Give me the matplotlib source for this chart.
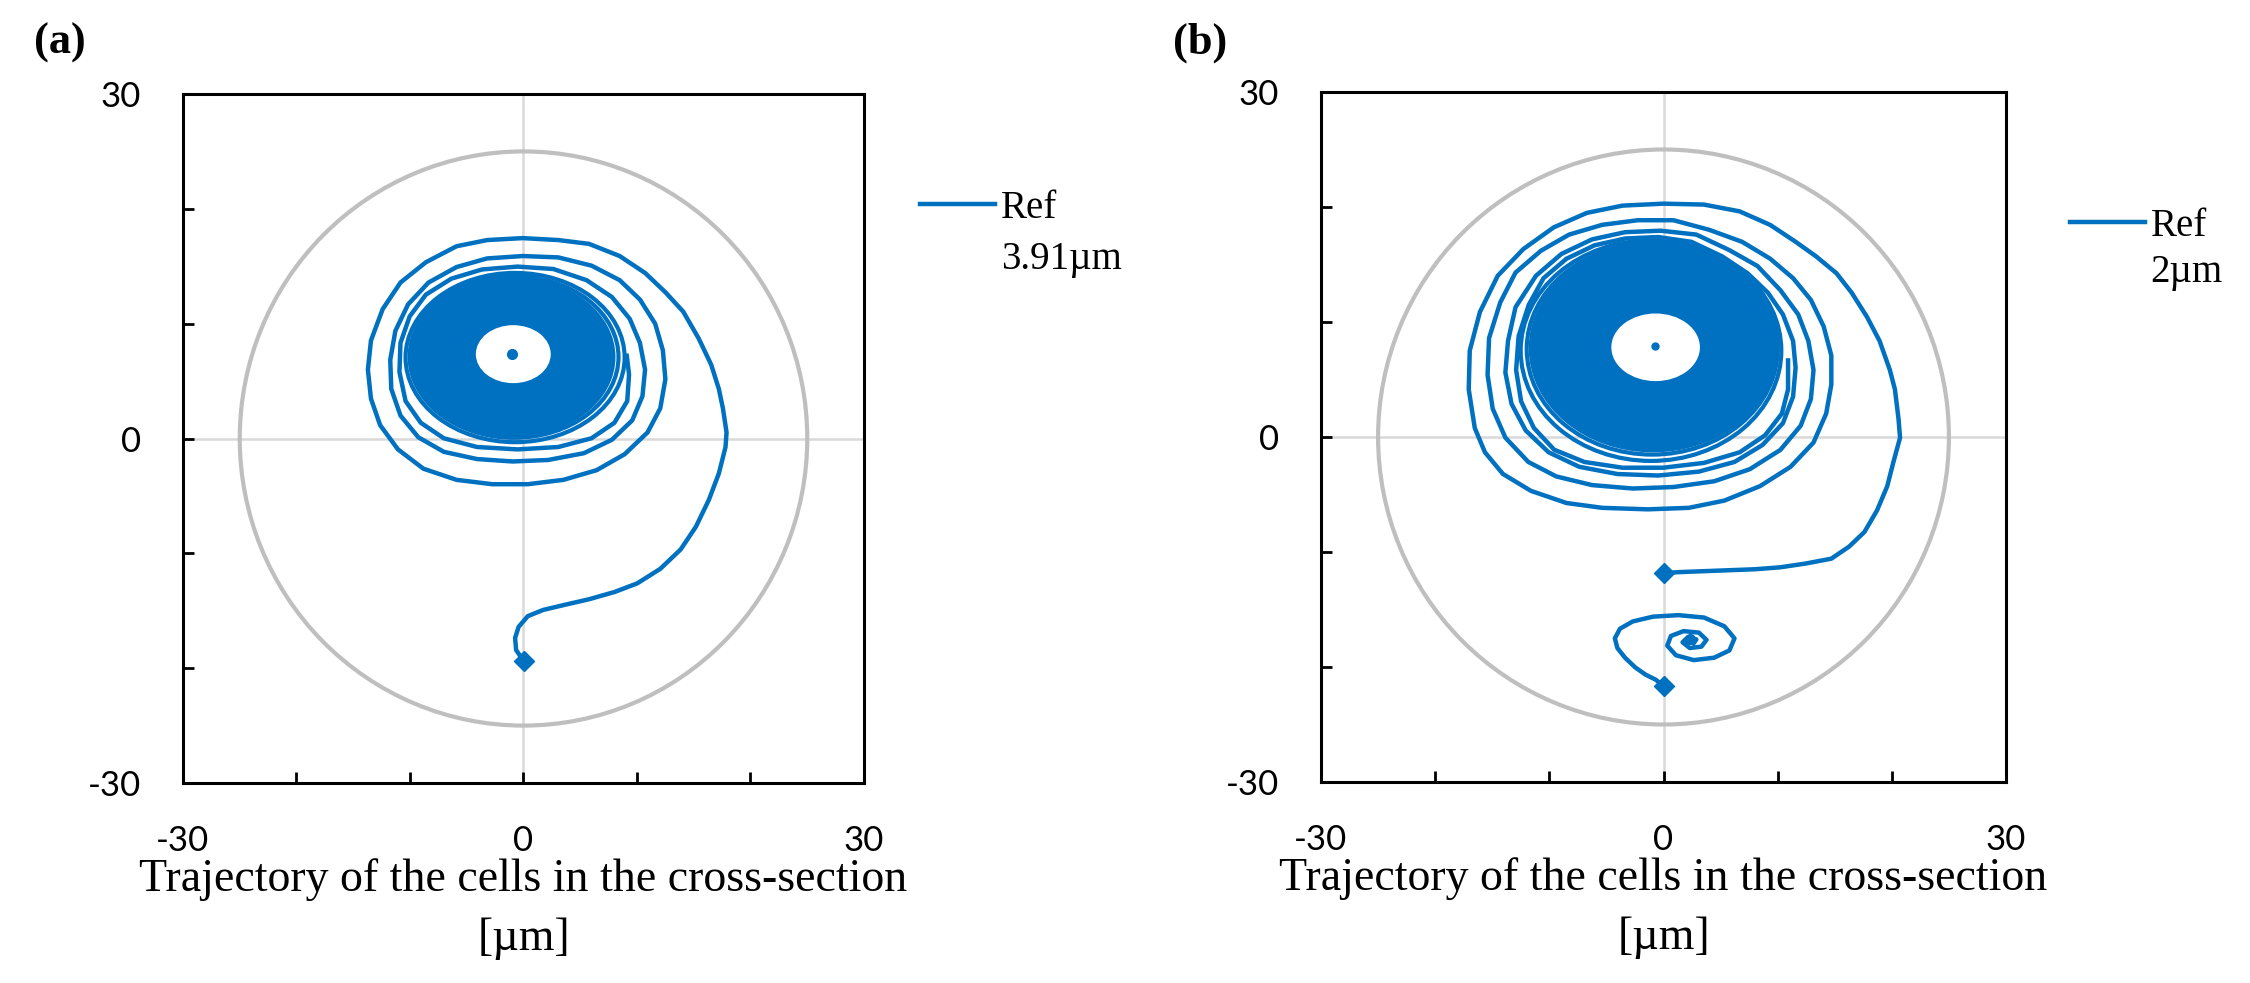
import matplotlib
matplotlib.use('Agg')
import matplotlib.pyplot as plt
from matplotlib.patches import Circle, Ellipse

BLUE = '#0070C0'
CIRCLE_GRAY = '#BFBFBF'
GRID_GRAY = '#D9D9D9'

# channel wall
channel_radius = 25

tick_values = [-30, -20, -10, 0, 10, 20, 30]
tick_labels = ['-30', '', '', '0', '', '', '30']

# ---- panel (a): Ref 3.91um ----
a_path_x = [0.02, -0.65, -0.74, -0.43, 0.38, 1.73, 3.52, 5.77, 8.01, 10.03, 12.05, 13.85,
            15.19, 16.32, 17.21, 17.80, 17.89, 17.57, 17.21, 16.54, 15.42, 14.07, 12.50,
            10.71, 8.47, 5.77, 3.07, -0.07, -3.21, -5.90, -8.60, -10.84, -12.41, -13.44,
            -13.71, -13.44, -12.63, -11.06, -8.82, -5.90, -2.76, 0.38, 3.52, 6.44, 8.91,
            10.93, 12.05, 12.50, 12.28, 11.60, 10.26, 8.47, 6.00, 3.07, -0.07, -3.21,
            -5.90, -8.37, -10.17, -11.29, -11.74, -11.65, -10.84, -9.27, -7.02, -4.10,
            -0.97, 2.17, 5.32, 7.79, 9.58, 10.48, 10.71, 10.26, 9.36, 7.79, 5.55, 2.63,
            -0.52, -3.66, -6.35, -8.60, -10.03, -10.84, -10.93, -10.39, -9.05, -7.02,
            -4.10, -0.52, 3.07, 5.99, 8.01, 9.14, 9.30, 9.10]
a_path_y = [-19.39, -18.42, -17.37, -16.40, -15.47, -14.93, -14.51, -14.00, -13.37, -12.61,
            -11.35, -9.66, -7.68, -5.37, -3.05, -0.74, 0.53, 2.63, 4.32, 6.42, 8.74, 11.05,
            12.74, 14.42, 15.89, 16.95, 17.28, 17.45, 17.28, 16.74, 15.35, 13.58, 11.26,
            8.53, 6.00, 3.47, 1.16, -0.95, -2.63, -3.60, -3.98, -3.98, -3.60, -2.76, -1.37,
            0.53, 2.63, 5.16, 7.68, 10.00, 12.10, 13.79, 15.05, 15.77, 15.89, 15.68, 14.93,
            13.58, 11.68, 9.37, 6.84, 4.32, 2.00, 0.11, -1.16, -1.79, -2.00, -1.87, -1.28,
            -0.11, 1.58, 3.68, 6.00, 8.32, 10.42, 12.32, 13.79, 14.76, 14.97, 14.72, 13.92,
            12.53, 10.63, 8.32, 5.79, 3.26, 1.37, 0.02, -0.74, -0.95, -0.74, 0.02, 1.37,
            3.26, 5.58, 7.20]
a_start_x = [0.02]
a_start_y = [-19.39]
# inner turns (left, right, bottom, top)
a_ring_left = [-10.39, -10.03]
a_ring_right = [8.91, 8.37]
a_ring_bottom = [-0.32, 0.06]
a_ring_top = [14.42, 14.13]
a_core = [-9.72, 7.92, 0.32, 13.87]
a_hole = [-4.20, 2.40, 4.82, 9.87]
a_dot = [-1.05, 7.39]

# ---- panel (b): Ref 2um ----
b_path_x = [0.00, 1.34, 3.55, 5.77, 8.01, 10.24, 12.47, 14.70, 16.26, 17.60, 18.71, 19.60,
            20.14, 20.72, 20.58, 20.27, 19.83, 18.93, 17.82, 16.48, 15.15, 13.36, 11.58,
            9.35, 6.67, 3.55, 0.00, -3.59, -6.71, -9.61, -12.28, -14.52, -16.08, -16.97,
            -17.06, -16.53, -15.64, -14.07, -11.62, -8.50, -5.37, -1.36, 2.21, 5.33, 8.46,
            11.13, 13.14, 14.25, 14.70, 14.70, 14.03, 12.91, 11.35, 9.35, 6.89, 3.99, 0.87,
            -2.25, -5.37, -8.27, -10.73, -12.96, -14.30, -15.28, -15.41, -14.96, -13.85,
            -11.84, -9.39, -6.27, -2.70, 0.87, 4.44, 7.56, 10.24, 12.02, 12.91, 13.14,
            12.69, 11.80, 10.24, 8.23, 5.77, 2.88, -0.25, -3.37, -6.27, -8.94, -11.17,
            -12.96, -13.62, -13.85, -13.31, -12.07, -10.06, -7.38, -4.04, -0.47, 3.10,
            6.22, 8.68, 10.46, 11.35, 11.57, 11.35, 10.46, 9.14, 7.36, 5.13, 2.45, -0.47,
            -3.37, -6.04, -8.50, -10.51, -11.80, -12.69, -12.91, -12.47, -11.35, -9.57,
            -6.93, -3.59, -0.02, 3.55, 6.67, 8.90, 10.37, 10.91, 10.91]
b_path_y = [-11.84, -11.75, -11.67, -11.59, -11.50, -11.33, -11.00, -10.58, -9.53, -8.26,
            -6.37, -4.27, -2.17, -0.06, 1.62, 4.14, 5.82, 8.35, 10.45, 12.55, 14.24, 15.71,
            16.97, 18.44, 19.62, 20.21, 20.29, 20.12, 19.49, 18.23, 16.34, 14.02, 10.87,
            7.51, 4.14, 0.78, -1.33, -3.21, -4.68, -5.74, -6.16, -6.29, -6.16, -5.53, -4.27,
            -2.59, -0.48, 2.04, 4.56, 7.09, 9.61, 11.92, 13.81, 15.50, 16.97, 18.02, 18.85,
            18.85, 18.45, 17.60, 16.20, 14.30, 11.70, 8.60, 5.40, 2.46, -0.06, -2.17,
            -3.43, -4.18, -4.48, -4.35, -3.85, -2.80, -1.12, 0.99, 3.30, 5.82, 8.35, 10.66,
            12.76, 14.87, 16.25, 17.60, 17.94, 17.81, 17.18, 15.92, 14.02, 11.29, 8.35,
            5.61, 2.88, 0.57, -1.33, -2.59, -3.22, -3.35, -3.01, -2.17, -0.69, 1.20, 3.51,
            6.03, 8.35, 10.66, 12.55, 14.24, 15.71, 16.97, 17.39, 17.26, 16.67, 15.50,
            13.81, 11.50, 8.77, 5.82, 3.09, 0.78, -1.11, -2.17, -2.67, -2.67, -2.25, -1.33,
            0.15, 2.04, 4.14, 6.66]
b_path2_x = [0.00, -0.69, -1.58, -2.48, -3.37, -4.04, -4.26, -3.81, -2.70, -0.91, 1.32,
             3.55, 5.33, 6.22, 5.77, 4.44, 2.65, 1.09, 0.33, 0.65, 1.76, 3.10, 3.77, 3.32,
             2.30, 1.67, 2.12, 2.88, 2.65, 2.21]
b_path2_y = [-21.64, -21.10, -20.66, -20.03, -19.19, -18.35, -17.51, -16.67, -16.04,
             -15.62, -15.49, -15.70, -16.46, -17.51, -18.56, -19.19, -19.40, -18.98,
             -18.14, -17.30, -16.88, -17.01, -17.64, -18.23, -18.35, -17.85, -17.43,
             -17.60, -17.93, -17.72]
b_start_x = [0.00, 0.00]
b_start_y = [-11.84, -21.64]
b_ring_left = [-12.51, -11.98, -11.62]
b_ring_right = [10.32, 10.00, 9.75]
b_ring_bottom = [-2.08, -1.53, -1.16]
b_ring_top = [17.10, 16.84, 16.59]
b_core = [-11.35, 9.53, -0.90, 16.34]
b_hole = [-4.57, 3.19, 4.86, 10.74]
b_dot = [-0.78, 7.93]
b_small_center = [2.30, -17.60]

legend_labels = ['Ref', 'Ref']
size_labels = ['3.91\u00b5m', '2\u00b5m']
panel_tags = ['(a)', '(b)']
xlabel_text = 'Trajectory of the cells in the cross-section\n[\u00b5m]'

SERIF = 'Liberation Serif'
SANS = 'Lato'


def ellipse_from_extent(ext, **kw):
    left, right, bottom, top = ext
    return Ellipse(((left + right) / 2, (bottom + top) / 2), right - left, top - bottom, **kw)


def style_axes(ax):
    ax.set_xlim(-30, 30)
    ax.set_ylim(-30, 30)
    ax.set_xticks(tick_values)
    ax.set_yticks(tick_values)
    ax.set_xticklabels(tick_labels, fontfamily=SANS, fontsize=25)
    ax.set_yticklabels(tick_labels, fontfamily=SANS, fontsize=25)
    ax.tick_params(direction='in', length=8, width=2, pad=30)
    for s in ax.spines.values():
        s.set_linewidth(2.2)
    ax.axhline(0, color=GRID_GRAY, lw=1.8, zorder=0.5)
    ax.axvline(0, color=GRID_GRAY, lw=1.8, zorder=0.5)
    ax.add_patch(Circle((0, 0), channel_radius, fill=False, ec=CIRCLE_GRAY, lw=3, zorder=1))
    ax.set_xlabel(xlabel_text, fontfamily=SERIF, fontsize=33, linespacing=1.5, labelpad=1)


def draw_panel(ax, paths, starts, rings, core, hole, dot, dot_size, label):
    style_axes(ax)
    first = True
    for px, py in paths:
        ax.plot(px, py, color=BLUE, lw=3.2, solid_joinstyle='round', zorder=2,
                label=label if first else None)
        first = False
    left, right, bottom, top = rings
    for ext in zip(left, right, bottom, top):
        ax.add_patch(ellipse_from_extent(ext, fill=False, ec=BLUE, lw=3, zorder=2))
    ax.add_patch(ellipse_from_extent(core, fc=BLUE, ec=BLUE, lw=3, zorder=2))
    ax.add_patch(ellipse_from_extent(hole, fc='white', ec='none', zorder=3))
    ax.plot([dot[0]], [dot[1]], 'o', color=BLUE, ms=dot_size, zorder=4)
    ax.plot(starts[0], starts[1], 'D', color=BLUE, ms=10, zorder=5)


fig = plt.figure(figsize=(22.5, 9.83), dpi=100)
W, H = 2250, 983
ax_a = fig.add_axes([183 / W, 1 - 783 / H, 681 / W, 689 / H])
ax_b = fig.add_axes([1321 / W, 1 - 782 / H, 685 / W, 690 / H])

draw_panel(ax_a, [(a_path_x, a_path_y)], (a_start_x, a_start_y),
           (a_ring_left, a_ring_right, a_ring_bottom, a_ring_top),
           a_core, a_hole, a_dot, 7, legend_labels[0])
draw_panel(ax_b, [(b_path_x, b_path_y), (b_path2_x, b_path2_y)], (b_start_x, b_start_y),
           (b_ring_left, b_ring_right, b_ring_bottom, b_ring_top),
           b_core, b_hole, b_dot, 5, legend_labels[1])
ax_b.plot([b_small_center[0]], [b_small_center[1]], 'o', color=BLUE, ms=7, zorder=4)

# legend: line + "Ref", size on the next line
for ax, anchor, size_pos, size_text in [(ax_a, (1.082, 0.834), (1.201, 0.760), size_labels[0]),
                                         (ax_b, (1.093, 0.805), (1.210, 0.738), size_labels[1])]:
    ax.legend(loc='center left', bbox_to_anchor=anchor, frameon=False, borderpad=0,
              borderaxespad=0, handlelength=1.93, handletextpad=0.15,
              prop={'family': SERIF, 'size': 28})
    ax.text(size_pos[0], size_pos[1], size_text, transform=ax.transAxes,
            fontfamily=SERIF, fontsize=28, ha='left', va='center')

fig.text(60 / W, 1 - 43 / H, panel_tags[0], fontfamily=SERIF, fontweight='bold',
         fontsize=32, ha='center', va='center')
fig.text(1200 / W, 1 - 43 / H, panel_tags[1], fontfamily=SERIF, fontweight='bold',
         fontsize=32, ha='center', va='center')

fig.savefig('out.png', dpi=100)
